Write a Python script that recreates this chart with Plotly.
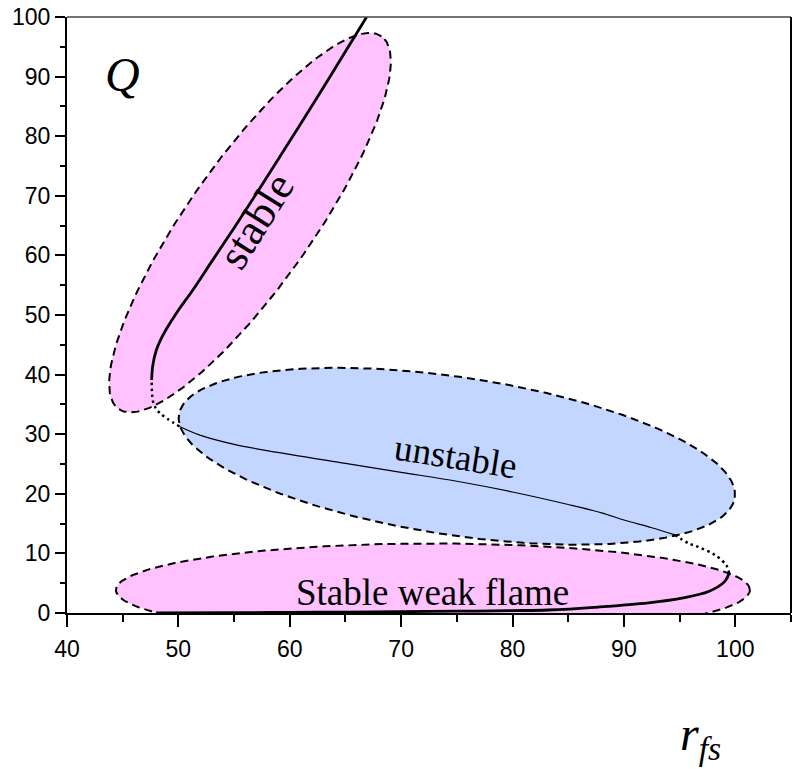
import numpy as np
import plotly.graph_objects as go

# ---- axis ticks ----
x_ticks = [40, 50, 60, 70, 80, 90, 100]
y_ticks = [0, 10, 20, 30, 40, 50, 60, 70, 80, 90, 100]

# ---- S-curve Q(r_fs), split into its branches ----
# lower (weak flame) stable branch
weak_x = [48.0, 55.0, 60.0, 65.0, 70.0, 75.0, 80.0, 83.2, 87.7, 92.2, 95.2, 97.6, 99.06, 99.45]
weak_y = [0.0, 0.05, 0.1, 0.15, 0.22, 0.3, 0.4, 0.5, 1.0, 1.7, 2.5, 3.6, 5.3, 6.7]
# turning point near r_fs ~ 99 (dotted)
turn_r_x = [99.45, 99.2, 98.2, 96.8, 95.8, 94.6]
turn_r_y = [6.7, 8.0, 9.7, 11.0, 11.7, 13.1]
# middle unstable branch
unst_x = [94.6, 92.5, 90.0, 88.0, 85.0, 80.0, 75.0, 70.0, 65.0, 60.0, 55.0, 52.0, 50.1]
unst_y = [13.1, 14.3, 15.6, 16.8, 18.2, 20.3, 22.1, 23.6, 25.1, 26.6, 28.3, 29.8, 31.3]
# turning point near r_fs ~ 48 (dotted)
turn_l_x = [50.1, 49.0, 48.3, 47.9, 47.7, 47.6]
turn_l_y = [31.3, 32.6, 33.6, 34.6, 35.7, 39.1]
# upper stable branch
upper_x = [47.6, 47.7, 48.0, 48.5, 49.1, 50.0, 51.3, 53.0, 55.0, 57.5, 60.0, 62.5, 65.0, 66.9]
upper_y = [39.1, 41.5, 44.0, 46.2, 48.2, 50.8, 54.2, 59.0, 64.6, 71.8, 79.2, 86.6, 94.2, 100.0]

# ---- highlighted regions: centre (data units), semi-axes (px), tilt (deg) ----
regions = [
    dict(name="stable", cx=56.43, cy=65.5, a=228, b=62, tilt=54.8, color="#FFC2FF"),
    dict(name="unstable", cx=75.0, cy=26.3, a=281, b=79, tilt=-8.5, color="#C2D6FF"),
    dict(name="weak", cx=72.85, cy=3.86, a=317, b=46.5, tilt=0.0, color="#FFC2FF"),
]

# ---- layout geometry ----
W, H = 792, 769
ML, MR, MT, MB = 67, 1, 17, 156
X_RANGE = [40, 105]
Y_RANGE = [0, 100]
px_per_x = (W - ML - MR) / (X_RANGE[1] - X_RANGE[0])
px_per_y = (H - MT - MB) / (Y_RANGE[1] - Y_RANGE[0])


def ellipse(cx, cy, a, b, tilt, n=240):
    t = np.linspace(0, 2 * np.pi, n)
    th = np.radians(tilt)
    u, v = a * np.cos(t), b * np.sin(t)
    X = u * np.cos(th) - v * np.sin(th)
    Y = u * np.sin(th) + v * np.cos(th)
    return cx + X / px_per_x, cy + Y / px_per_y


fig = go.Figure()

for r in regions:
    ex, ey = ellipse(r["cx"], r["cy"], r["a"], r["b"], r["tilt"])
    fig.add_trace(go.Scatter(
        x=ex, y=ey, mode="lines", fill="toself", fillcolor=r["color"],
        line=dict(color="black", width=2, dash="8px,5px"),
        hoverinfo="skip", showlegend=False,
    ))

thick = dict(color="black", width=2.8)
dotted = dict(color="black", width=2.5, dash="2.5px,3.5px")
thin = dict(color="black", width=1.2)

for xs, ys, ln in [
    (weak_x, weak_y, thick),
    (turn_r_x, turn_r_y, dotted),
    (unst_x, unst_y, thin),
    (turn_l_x, turn_l_y, dotted),
    (upper_x, upper_y, thick),
]:
    fig.add_trace(go.Scatter(x=xs, y=ys, mode="lines", line=dict(shape="spline", **ln),
                             hoverinfo="skip", showlegend=False))

serif = "Liberation Serif, Times New Roman, serif"
fig.add_annotation(x=45.0, y=90.4, text="<i>Q</i>", showarrow=False,
                   font=dict(family=serif, size=48, color="black"))
fig.add_annotation(x=57.0, y=65.8, text="stable", textangle=-58, showarrow=False,
                   font=dict(family=serif, size=44, color="black"))
fig.add_annotation(x=74.9, y=26.2, text="unstable", textangle=9, showarrow=False,
                   font=dict(family=serif, size=37, color="black"))
fig.add_annotation(x=72.85, y=3.4, text="Stable weak flame", showarrow=False,
                   font=dict(family=serif, size=37, color="black"))
fig.add_annotation(x=0.906, y=-0.262, xref="paper", yref="paper",
                   text="<i>r</i><sub><i>fs</i></sub>", showarrow=False,
                   font=dict(family=serif, size=48, color="black"))

# top and right frame lines
fig.add_shape(type="line", xref="paper", yref="paper", x0=0, x1=1, y0=1, y1=1,
              line=dict(color="#444", width=1.3))
fig.add_shape(type="line", xref="paper", yref="paper", x0=1, x1=1, y0=0, y1=1,
              line=dict(color="black", width=2))

tickfont = dict(family="Liberation Sans Narrow, Arial Narrow, Liberation Sans, Arial", size=23, color="black")
fig.update_xaxes(range=X_RANGE, tickvals=x_ticks, ticks="outside", ticklen=12, tickwidth=1.5,
                 tickcolor="black", showline=True, linecolor="black", linewidth=2,
                 showgrid=False, zeroline=False, tickfont=tickfont, ticklabelstandoff=2,
                 minor=dict(dtick=5, tick0=40, ticks="outside", ticklen=7, tickwidth=1.5,
                            tickcolor="black", showgrid=False))
fig.update_yaxes(range=Y_RANGE, tickvals=y_ticks, ticks="outside", ticklen=10, tickwidth=1.5,
                 tickcolor="black", showline=True, linecolor="black", linewidth=2,
                 showgrid=False, zeroline=False, tickfont=tickfont,
                 minor=dict(dtick=5, tick0=0, ticks="outside", ticklen=5, tickwidth=1.5,
                            tickcolor="black", showgrid=False))

fig.update_layout(width=W, height=H, margin=dict(l=ML, r=MR, t=MT, b=MB),
                  plot_bgcolor="white", paper_bgcolor="white", showlegend=False)

fig.write_html("out.html")
